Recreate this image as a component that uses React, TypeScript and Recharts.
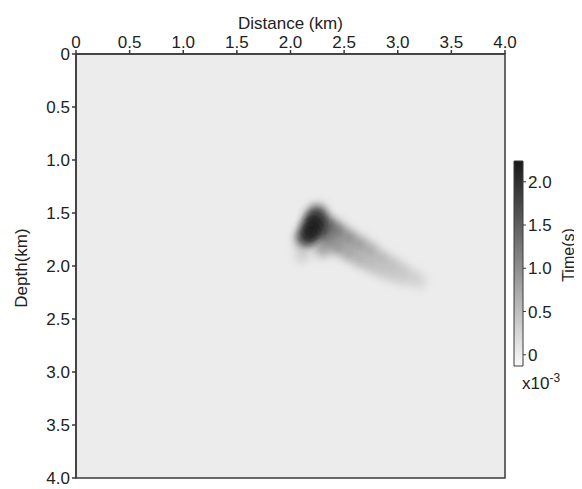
import { ComposedChart, Scatter, XAxis, YAxis, ReferenceArea } from 'recharts'

// travel-time anomaly: distance (km), depth (km), time (x10^-3 s)
const distance = [
  2.25, 2.23, 2.21, 2.19, 2.16, 2.12, 2.28, 2.31,
  2.37, 2.45, 2.55, 2.65, 2.75, 2.85, 2.95, 3.05, 3.15, 3.21,
  2.36, 2.45, 2.55, 2.65, 2.75, 2.85, 2.95, 3.05,
  2.30, 2.11,
]
const depth = [
  1.50, 1.56, 1.62, 1.68, 1.72, 1.75, 1.58, 1.66,
  1.63, 1.68, 1.74, 1.80, 1.86, 1.93, 1.99, 2.05, 2.11, 2.15,
  1.76, 1.82, 1.88, 1.94, 1.99, 2.04, 2.08, 2.12,
  1.84, 1.90,
]
const time = [
  1.4, 1.9, 2.2, 2.2, 1.7, 1.0, 1.6, 1.45,
  1.35, 1.2, 1.05, 0.9, 0.75, 0.62, 0.52, 0.43, 0.33, 0.22,
  1.1, 0.95, 0.8, 0.66, 0.55, 0.46, 0.38, 0.3,
  0.8, 0.35,
]

const distTicks = [0, 0.5, 1, 1.5, 2, 2.5, 3, 3.5, 4]
const depthTicks = [0, 0.5, 1, 1.5, 2, 2.5, 3, 3.5, 4]
const timeTicks = [0, 0.5, 1, 1.5, 2]
const timeRange = [-0.13, 2.24]

const FONT = '"Liberation Sans", Arial, sans-serif'
const AXIS = '#3a3a3a'

const points = distance
  .map((d, i) => ({ x: d, y: depth[i], v: time[i] }))
  .sort((a, b) => a.v - b.v)

const cbarData = [{ x: 0, y: timeRange[0] }, { x: 1, y: timeRange[1] }]

function grey(v: number) {
  const t = (v - timeRange[0]) / (timeRange[1] - timeRange[0])
  const g = Math.round(250 - t * 225)
  return `rgb(${g},${g},${g})`
}

const fmt = (v: number) => (v === 0 ? '0' : v.toFixed(1))

function Blob(props: any) {
  const { cx, cy, payload } = props
  if (cx == null || cy == null) return null
  return <circle cx={cx} cy={cy} r={7 + payload.v * 1.1} fill={grey(payload.v)} filter="url(#soft)" />
}

export default function App() {
  return (
    <div style={{ position: 'relative', width: 574, height: 481, fontFamily: FONT }}>
      <svg width={0} height={0} style={{ position: 'absolute' }}>
        <defs>
          <filter id="soft" x="-100%" y="-100%" width="300%" height="300%">
            <feGaussianBlur stdDeviation={5} />
          </filter>
          <linearGradient id="cbar" x1="0" y1="1" x2="0" y2="0">
            <stop offset="0%" stopColor="#fafafa" />
            <stop offset="100%" stopColor="#191919" />
          </linearGradient>
        </defs>
      </svg>

      <ComposedChart width={574} height={481} margin={{ top: 16, right: 77, bottom: 11, left: 18 }}>
        <XAxis
          type="number" dataKey="x" orientation="top" domain={[0, 4]} ticks={distTicks}
          tickFormatter={fmt} height={30} tickSize={4} interval={0}
          stroke={AXIS} strokeWidth={1.5}
          tick={{ fill: '#222', fontSize: 17, fontFamily: FONT }}
          allowDataOverflow
        />
        <YAxis
          type="number" dataKey="y" reversed domain={[0, 4]} ticks={depthTicks}
          tickFormatter={fmt} width={50} tickSize={4} interval={0}
          stroke={AXIS} strokeWidth={1.5}
          tick={{ fill: '#222', fontSize: 17, fontFamily: FONT }}
          allowDataOverflow
        />
        <ReferenceArea x1={0} x2={4} y1={0} y2={4} fill="#ececec" fillOpacity={1} stroke={AXIS} strokeWidth={1.5} />
        <Scatter data={points} shape={Blob} isAnimationActive={false} />
        <ReferenceArea x1={2.24} x2={2.29} y1={1.74} y2={1.79} fill="#f4f4f4" fillOpacity={0.9} filter="url(#soft)" />
      </ComposedChart>

      <span style={{ position: 'absolute', left: 230, top: 6, fontSize: 17, color: '#222' }}>Distance (km)</span>
      <div style={{ position: 'absolute', left: 14 - 60, top: 250, width: 120, textAlign: 'center', transform: 'rotate(-90deg)', fontSize: 17, color: '#222' }}>
        Depth(km)
      </div>

      <div style={{ position: 'absolute', left: 500, top: 147 }}>
        <ComposedChart width={62} height={217} data={cbarData} margin={{ top: 6, right: 5, bottom: 6, left: 6 }}>
          <XAxis type="number" dataKey="x" domain={[0, 1]} hide />
          <YAxis
            type="number" dataKey="y" orientation="right" domain={timeRange} ticks={timeTicks}
            tickFormatter={fmt} width={42} tickSize={3} interval={0}
            axisLine={false} stroke={AXIS} allowDataOverflow
            tick={{ fill: '#222', fontSize: 17, fontFamily: FONT }}
          />
          <ReferenceArea x1={0} x2={1} y1={timeRange[0]} y2={timeRange[1]} fill="url(#cbar)" fillOpacity={1} stroke={AXIS} strokeWidth={1} />
        </ComposedChart>
      </div>
      <div style={{ position: 'absolute', left: 521, top: 238, width: 80, textAlign: 'center', whiteSpace: 'nowrap', transform: 'rotate(-90deg)', fontSize: 16, color: '#222' }}>
        Time(s)
      </div>
      <div style={{ position: 'absolute', left: 514, top: 366, fontSize: 17, color: '#222' }}>
        x10<sup style={{ fontSize: 12, verticalAlign: 'top', position: 'relative', top: -3 }}>-3</sup>
      </div>
    </div>
  )
}
